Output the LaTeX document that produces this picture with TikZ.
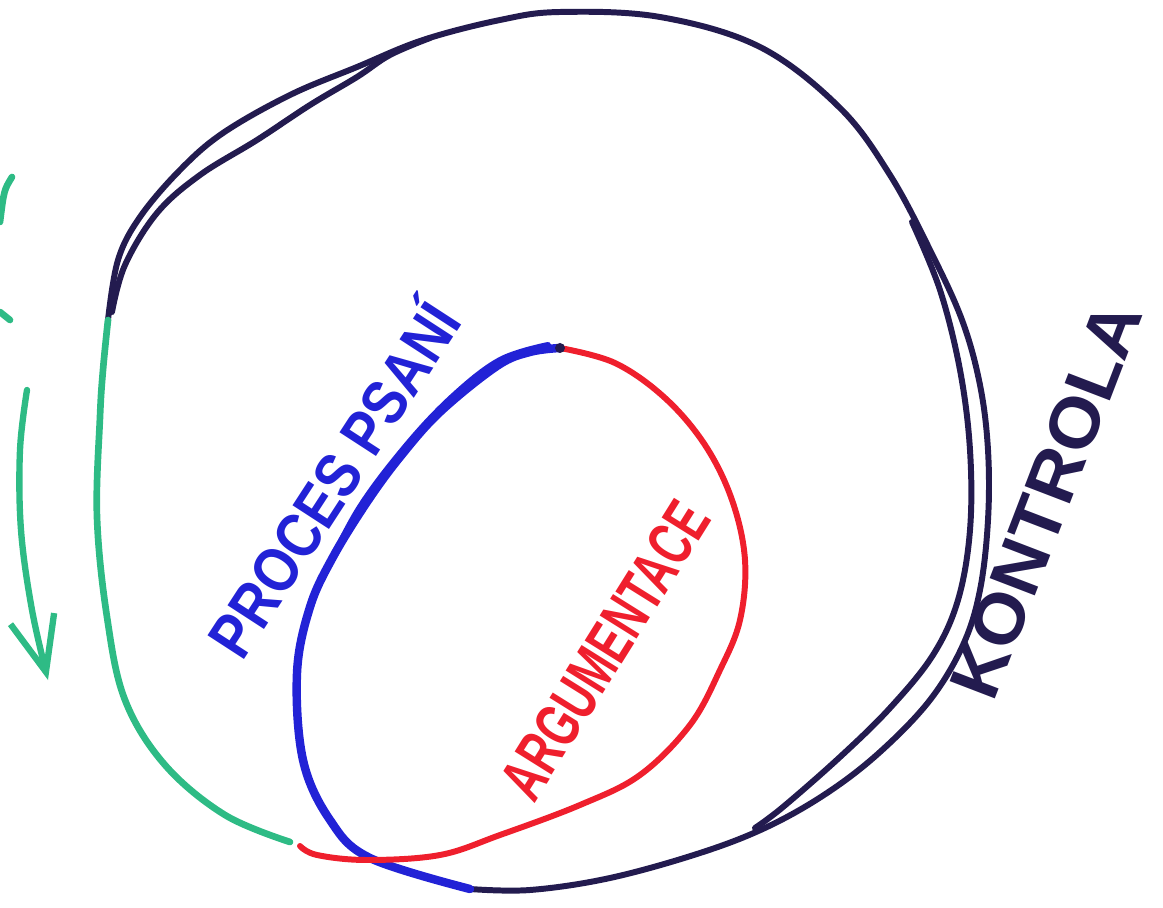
\documentclass[tikz,border=0pt]{standalone}
\usepackage{fontspec}
\setmainfont{Liberation Sans}
\usepackage{graphicx}
\usetikzlibrary{arrows.meta}
\definecolor{ink}{HTML}{231B4F}
\definecolor{bluepen}{HTML}{2222D6}
\definecolor{redpen}{HTML}{EF1F2D}
\definecolor{greenpen}{HTML}{2EBB85}

\begin{document}
\begin{tikzpicture}[
  x=0.02cm,y=-0.02cm,
  pen/.style={line width=3.4pt,line cap=round,line join=round},
  hand/.style={font=\fontsize{36}{36}\selectfont\bfseries,inner sep=0pt},
  arr/.style={-{Straight Barb[length=11mm,width=9mm]},line width=3.6pt,line cap=round,greenpen}
]
\useasboundingbox (0,0) rectangle (1163,908);
% junction points
\coordinate (rim) at (108,320);
\coordinate (apex) at (560,348);
\coordinate (base) at (470,889);
\coordinate (tail) at (290,842);
\coordinate (redend) at (300,846);
\coordinate (arrtop) at (27,390);
\coordinate (arrtip) at (48,680);

% outer ring, kontrola
\draw[pen,ink] plot[smooth,tension=0.6] coordinates {(rim) (118,260) (140,217) (180,170) (223,133) (290,95) (357,67) (423,40) (500,20) (560,12) (660,17) (760,47) (840,108) (890,175) (930,250) (962,320) (980,385) (988,450) (988,520) (980,590) (963,645) (930,700) (880,752) (827,793) (767,827) (700,853) (610,878) (530,890) (base)};
\draw[pen,ink] plot[smooth,tension=0.6] coordinates {(112,312) (125,265) (157,213) (200,175) (257,140) (310,105) (357,77) (390,55) (430,38)};
\draw[pen,ink] plot[smooth,tension=0.6] coordinates {(912,222) (940,290) (960,370) (970,450) (970,530) (958,600) (933,655) (890,708) (840,757) (783,807) (755,828)};

% green side
\draw[pen,greenpen,line width=3.8pt] plot[smooth,tension=0.6] coordinates {(rim) (103,370) (100,417) (97,517) (107,617) (125,700) (165,765) (225,815) (tail)};
\draw[arr] plot[smooth,tension=0.6] coordinates {(arrtop) (20,450) (21,530) (32,610) (arrtip)};
\draw[pen,greenpen,line width=3.8pt] (12,177) .. controls (4,190) .. (0,222);
\draw[pen,greenpen,line width=3.8pt] (0,312) -- (10,320);

% blue, proces psani
\draw[pen,bluepen,line width=4.8pt] plot[smooth,tension=0.6] coordinates {(apex) (530,352) (497,366) (440,412) (400,457) (367,502) (333,557) (310,607) (297,673) (303,760) (330,820) (370,858) (base)};
\draw[pen,bluepen] plot[smooth,tension=0.6] coordinates {(548,345) (500,360) (452,397) (405,447) (358,510) (322,580)};

% red, argumentace
\draw[pen,redpen] plot[smooth,tension=0.6] coordinates {(apex) (615,363) (665,398) (705,445) (732,500) (745,560) (740,620) (720,670) (690,725) (640,775) (580,805) (500,835) (440,855) (367,860) (317,855) (redend)};
\fill[ink] (apex) circle (5);

% labels
\node[hand,bluepen,rotate=57] (proces) at (330,477) {\scalebox{0.85}[1]{PROCES PSANÍ}};
\node[hand,redpen,rotate=58] (argum) at (605,650) {\scalebox{0.68}[1]{ARGUMENTACE}};
\node[hand,ink,rotate=69,font=\fontsize{40}{40}\selectfont\bfseries] (kontrola) at (1046,500) {\scalebox{1.05}[1]{KONTROLA}};
\end{tikzpicture}
\end{document}
